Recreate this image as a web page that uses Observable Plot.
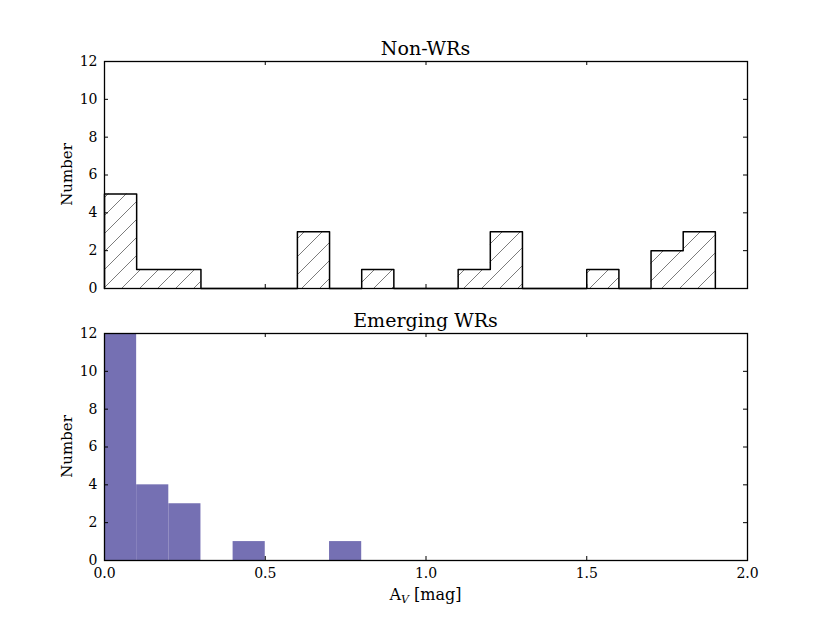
<!DOCTYPE html>
<html><head><meta charset="utf-8">
<script src="https://cdn.jsdelivr.net/npm/d3@7"></script>
<script src="https://cdn.jsdelivr.net/npm/@observablehq/plot@0.6"></script>
<style>
body{margin:0;background:#fff;}
#chart{position:relative;width:830px;height:623px;background:#fff;}
svg{display:block;}
#chart svg, #chart svg text{font-family:"DejaVu Serif",serif !important;}
</style></head><body><div id="chart"></div>
<script>
// ---- data ----
const nonWRBinStart = [0.0,0.1,0.2,0.3,0.4,0.5,0.6,0.7,0.8,0.9,1.0,1.1,1.2,1.3,1.4,1.5,1.6,1.7,1.8];
const nonWRCounts   = [5,  1,  1,  0,  0,  0,  3,  0,  1,  0,  0,  1,  3,  0,  0,  1,  0,  2,  3];
const emergingBinStart = [0.0,0.1,0.2,0.3,0.4,0.5,0.6,0.7];
const emergingCounts   = [12, 4,  3,  0,  1,  0,  0,  1];
const binWidth = 0.1;
const xTicks = [0.0,0.5,1.0,1.5,2.0];
const xTickLabels = ["0.0","0.5","1.0","1.5","2.0"];
const yTicks = [0,2,4,6,8,10,12];
const panelTitles = ["Non-WRs","Emerging WRs"];
const yLabel = "Number";

const W = 830, ML = 104, MR = 83, FH = 227, FW = W - ML - MR;
const FONT = '"DejaVu Serif",serif';
const TL = 4; // tick length

function tickMarks() {
  return [
    Plot.tickX(xTicks, {x: d => d, insetTop: FH - TL, stroke: "black", strokeWidth: 1}),
    Plot.tickX(xTicks, {x: d => d, insetBottom: FH - TL, stroke: "black", strokeWidth: 1}),
    Plot.tickY(yTicks, {y: d => d, insetRight: FW - TL, stroke: "black", strokeWidth: 1}),
    Plot.tickY(yTicks, {y: d => d, insetLeft: FW - TL, stroke: "black", strokeWidth: 1}),
    Plot.axisY(yTicks, {tickSize: 0, tickPadding: 7, label: null, fontSize: 14, tickFormat: d => String(d)})
  ];
}

function addLabels(svg, title, titleY, centerY) {
  const s = d3.select(svg);
  s.append("text").attr("x", ML + FW/2).attr("y", titleY).attr("text-anchor","middle")
    .style("font-family", FONT).attr("font-size", 19).attr("fill","black").text(title);
  s.append("text").attr("transform", `translate(72,${centerY}) rotate(-90)`).attr("text-anchor","middle")
    .style("font-family", FONT).attr("font-size", 15).attr("fill","black").text(yLabel);
}

// ---- top panel ----
const topH = 305, topMT = 61;
const topRects = nonWRBinStart.map((x, i) => ({x1: x, x2: x + binWidth, y: nonWRCounts[i]}));
const lastIdx = nonWRBinStart.length - 1;
const outline = [{x: nonWRBinStart[0], y: 0}]
  .concat(nonWRBinStart.map((x, i) => ({x, y: nonWRCounts[i]})))
  .concat([{x: nonWRBinStart[lastIdx] + binWidth, y: nonWRCounts[lastIdx]}, {x: nonWRBinStart[lastIdx] + binWidth, y: 0}]);

const topPlot = Plot.plot({
  width: W, height: topH,
  marginTop: topMT, marginBottom: topH - topMT - FH, marginLeft: ML, marginRight: MR,
  style: {fontFamily: FONT, fontSize: "14px", background: "white", color: "black", overflow: "visible"},
  x: {domain: [0, 2], axis: null},
  y: {domain: [0, 12]},
  marks: [
    Plot.rectY(topRects.filter(d => d.y > 0), {x1: "x1", x2: "x2", y: "y", fill: "url(#hatchNonWR)"}),
    Plot.line(outline, {x: "x", y: "y", curve: "step-after", stroke: "black", strokeWidth: 1.5}),
    Plot.frame({stroke: "black", strokeWidth: 1.3}),
    ...tickMarks()
  ]
});
const defs = d3.select(topPlot).insert("defs", ":first-child");
const pat = defs.append("pattern").attr("id", "hatchNonWR").attr("patternUnits", "userSpaceOnUse")
  .attr("width", 18).attr("height", 18).attr("x", ML).attr("y", topMT + FH);
pat.append("path").attr("d", "M0,18 L18,0 M-4.5,4.5 L4.5,-4.5 M13.5,22.5 L22.5,13.5")
  .attr("stroke", "#444").attr("stroke-width", 0.7).attr("fill", "none");
addLabels(topPlot, panelTitles[0], 55, topMT + FH/2);
document.getElementById("chart").appendChild(topPlot);

// ---- bottom panel ----
const botH = 623 - topH, botMT = 333 - topH;
const botRects = emergingBinStart.map((x, i) => ({x1: x, x2: x + binWidth, y: emergingCounts[i]}));
const bottomPlot = Plot.plot({
  width: W, height: botH,
  marginTop: botMT, marginBottom: botH - botMT - FH, marginLeft: ML, marginRight: MR,
  style: {fontFamily: FONT, fontSize: "14px", background: "white", color: "black", overflow: "visible"},
  x: {domain: [0, 2]},
  y: {domain: [0, 12]},
  marks: [
    Plot.rectY(botRects.filter(d => d.y > 0), {x1: "x1", x2: "x2", y: "y", fill: "#7570b3"}),
    Plot.frame({stroke: "black", strokeWidth: 1.3}),
    ...tickMarks(),
    Plot.axisX(xTicks, {tickSize: 0, tickPadding: 8, label: null, fontSize: 14, tickFormat: (d, i) => xTickLabels[i]})
  ]
});
addLabels(bottomPlot, panelTitles[1], 327 - topH, botMT + FH/2);
const xl = d3.select(bottomPlot).append("text").attr("x", ML + FW/2).attr("y", 600 - topH)
  .attr("text-anchor", "middle").style("font-family", FONT).attr("font-size", 16).attr("fill", "black");
xl.append("tspan").text("A");
xl.append("tspan").attr("font-size", 11).attr("dy", 3).attr("font-style", "italic").text("V");
xl.append("tspan").attr("dy", -3).text(" [mag]");
document.getElementById("chart").appendChild(bottomPlot);
</script></body></html>
